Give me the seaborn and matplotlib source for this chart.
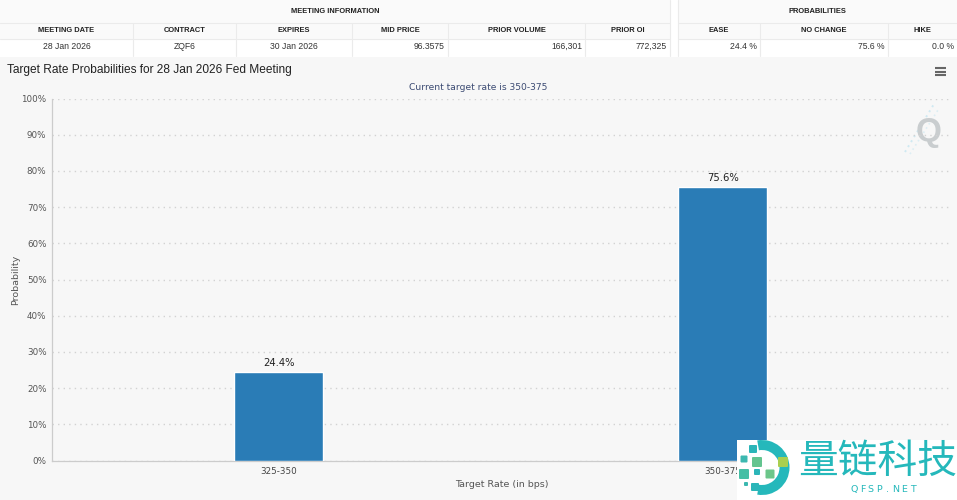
import matplotlib
matplotlib.use("Agg")
import matplotlib.pyplot as plt
import seaborn as sns
from matplotlib.patches import Rectangle, Wedge, FancyBboxPatch

# chart data
rates = ["325-350", "350-375"]
probs = [24.4, 75.6]
y_ticks = [0, 10, 20, 30, 40, 50, 60, 70, 80, 90, 100]

# table data
info_heads = ["MEETING DATE", "CONTRACT", "EXPIRES", "MID PRICE", "PRIOR VOLUME", "PRIOR OI"]
info_vals = ["28 Jan 2026", "ZQF6", "30 Jan 2026", "96.3575", "166,301", "772,325"]
prob_heads = ["EASE", "NO CHANGE", "HIKE"]
prob_vals = ["24.4 %", "75.6 %", "0.0 %"]

W, H = 957, 500
BG = "#f7f7f7"
LINE = "#ebebeb"
TXT = "#333333"
TEAL = "#25b8bb"

sns.set_theme(style="white")
plt.rcParams["font.family"] = ["Liberation Sans", "DejaVu Sans"]

fig = plt.figure(figsize=(W / 100, H / 100), dpi=100, facecolor="white")

# overlay in pixel coordinates for table and logo
page = fig.add_axes([0, 0, 1, 1], zorder=0)
page.set_xlim(0, W)
page.set_ylim(H, 0)
page.axis("off")

page.add_patch(Rectangle((0, 57), W, H - 57, fc=BG, ec="none"))


def draw_table(x_edges, title, heads, vals, right_from):
    left, right = x_edges[0], x_edges[-1]
    page.add_patch(Rectangle((left, 0), right - left, 39, fc="#fafafa", ec="none"))
    page.add_patch(Rectangle((left, 39), right - left, 17, fc="white", ec="none"))
    page.plot([left, right], [23, 23], color=LINE, lw=0.8)
    page.plot([left, right], [39, 39], color=LINE, lw=0.8)
    for xe in x_edges[1:-1]:
        page.plot([xe, xe], [23, 56], color=LINE, lw=0.8)
    page.text((left + right) / 2, 11.5, title, ha="center", va="center",
              fontsize=5.4, fontweight="bold", color="#222222")
    for i, (h, v) in enumerate(zip(heads, vals)):
        a, b = x_edges[i], x_edges[i + 1]
        page.text((a + b) / 2, 31, h, ha="center", va="center",
                  fontsize=5.4, fontweight="bold", color="#222222")
        if i >= right_from:
            page.text(b - 3, 46.5, v, ha="right", va="center", fontsize=6.2, color=TXT)
        else:
            page.text((a + b) / 2, 46.5, v, ha="center", va="center", fontsize=6.2, color=TXT)


draw_table([0, 133, 236, 352, 448, 585, 670], "MEETING INFORMATION", info_heads, info_vals, 3)
draw_table([678, 760, 888, 957], "PROBABILITIES", prob_heads, prob_vals, 0)
page.plot([670, 670], [0, 56], color=LINE, lw=0.8)
page.plot([678, 678], [0, 56], color=LINE, lw=0.8)

page.text(7, 69.5, "Target Rate Probabilities for 28 Jan 2026 Fed Meeting",
          ha="left", va="center", fontsize=8.55, color="#222222")
page.text(478.5, 87, "Current target rate is 350-375", ha="center", va="center",
          fontsize=6.6, color="#3b4a72", family="DejaVu Sans")

# menu icon
for yy in (68, 71.5, 75):
    page.plot([935, 946], [yy, yy], color="#666666", lw=1.5, solid_capstyle="butt")

# faint Q watermark
page.plot([905, 934], [152, 104], color="#cfe9f2", lw=1.4, ls=(0, (1, 2)))
page.plot([910, 938], [154, 110], color="#dceef4", lw=1.2, ls=(0, (1, 2)))
page.text(929, 132, "Q", ha="center", va="center", fontsize=24, fontweight="bold", color="#c9cdcf")

# the chart itself
ax = fig.add_axes([52 / W, 1 - 460.5 / H, 900 / W, 362 / H], zorder=1)
ax.patch.set_alpha(0)
sns.barplot(x=rates, y=probs, color="#2a7cb6", saturation=1, width=0.2, ax=ax, zorder=3)
ax.set_xlim(-0.511, 1.516)
ax.set_ylim(0, 100)
ax.set_yticks(y_ticks)
ax.set_yticklabels([f"{v}%" for v in y_ticks], fontsize=6.3, color="#555555", family="DejaVu Sans")
ax.tick_params(axis="x", labelsize=6.3, labelcolor="#444444", length=0, pad=5)
ax.tick_params(axis="y", length=0, pad=4)
for lab in ax.get_xticklabels():
    lab.set_family("DejaVu Sans")
ax.grid(axis="y", color="#d2d2d2", lw=1.0, ls=(0, (1, 3)), zorder=0)
ax.set_axisbelow(True)
for side in ("top", "right"):
    ax.spines[side].set_visible(False)
for side in ("left", "bottom"):
    ax.spines[side].set_color("#cccccc")
    ax.spines[side].set_linewidth(0.9)
ax.set_xlabel("Target Rate (in bps)", fontsize=6.8, color="#555555", labelpad=2.5, family="DejaVu Sans")
ax.set_ylabel("Probability", fontsize=6.8, color="#555555", labelpad=1, family="DejaVu Sans")

for i, p in enumerate(probs):
    ax.annotate(f"{p}%", (i, p), xytext=(0, 3), textcoords="offset points", ha="center",
                va="bottom", fontsize=7.2, color="#222222", family="DejaVu Sans")

# logo box on top of everything
logo = fig.add_axes([0, 0, 1, 1], zorder=2)
logo.set_xlim(0, W)
logo.set_ylim(H, 0)
logo.axis("off")
logo.patch.set_alpha(0)
logo.add_patch(Rectangle((737, 440), W - 737, 60, fc="white", ec="none"))
logo.add_patch(Wedge((762, 467.5), 27.5, -100, 100, width=10, fc=TEAL, ec="none"))
# centre x, centre y, size, colour
squares = [
    (753, 449, 8, "#2bb5b8"), (744, 459, 7, "#3cb8b0"), (757, 462, 10, "#63c48f"),
    (783, 462, 10, "#a9cf4f"), (744, 474, 10, "#45bfa5"), (757, 472, 6, "#2bb5b8"),
    (770, 474, 9, "#6cc68a"), (755, 487, 8, "#2bb5b8"), (746, 484, 4, "#3cb8b0"),
]
for sx, sy, s, c in squares:
    logo.add_patch(FancyBboxPatch((sx - s / 2, sy - s / 2), s, s,
                                  boxstyle="round,pad=0,rounding_size=1", fc=c, ec="none"))
logo.text(877.5, 462, "量链科技", ha="center", va="center", fontsize=28.6, color=TEAL,
          fontweight="medium", family=["Noto Sans CJK SC", "DejaVu Sans"])
# letter spaced site name
for i, ch in enumerate("QFSP.NET"):
    logo.text(854 + i * 8.4, 489.5, ch, ha="center", va="center", fontsize=6.8, color=TEAL,
              family="DejaVu Sans")

fig.savefig("out.png", dpi=100)
